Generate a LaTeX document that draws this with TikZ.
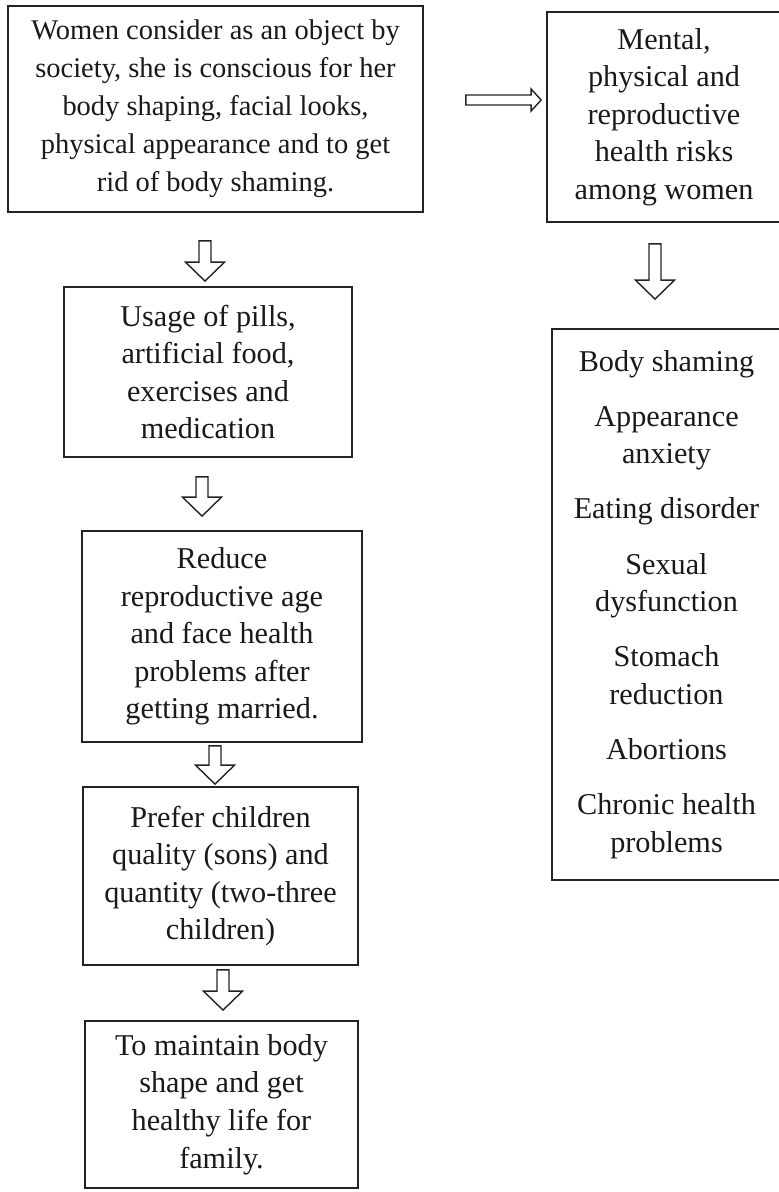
\documentclass[tikz,border=0pt]{standalone}
\usepackage{fontspec}
\setmainfont{Liberation Serif}
\usepackage{tikz}
\usetikzlibrary{calc, positioning, arrows.meta}
\definecolor{boxline}{RGB}{35,35,35}
\definecolor{boxtext}{RGB}{25,25,25}
\tikzset{
    flowbox/.style={draw=boxline, line width=1pt, align=center, inner sep=0pt, text=boxtext, font=\fontsize{17.2}{21.4}\selectfont},
    downblock/.style={draw=boxline, line width=0.8pt, to path={let \p1=(\tikztostart), \p2=(\tikztotarget) in
        (\x1-1.2mm,\y1) -- (\x1-1.2mm,\y2+3.8mm) -- (\x1-3.9mm,\y2+3.8mm) -- (\x1,\y2)
        -- (\x1+3.9mm,\y2+3.8mm) -- (\x1+1.2mm,\y2+3.8mm) -- (\x1+1.2mm,\y1) -- cycle}},
    rightblock/.style={draw=boxline, line width=0.8pt, to path={let \p1=(\tikztostart), \p2=(\tikztotarget) in
        (\x1,\y1+1mm) -- (\x2-2mm,\y1+1mm) -- (\x2-2mm,\y1+2.2mm) -- (\x2,\y1)
        -- (\x2-2mm,\y1-2.2mm) -- (\x2-2mm,\y1-1mm) -- (\x1,\y1-1mm) -- cycle}}
}
\begin{document}
\begin{tikzpicture}[x=0.2mm,y=0.2mm]
            \useasboundingbox (0,0) rectangle (779,-1192);
            \node[flowbox, font=\fontsize{16.2}{21.6}\selectfont, minimum width=83mm, minimum height=41.2mm] (obj) at (215.5,-109) {Women consider as an object by\\ society, she is conscious for her\\ body shaping, facial looks,\\ physical appearance and to get\\ rid of body shaming.};
            \node[flowbox, minimum width=46.8mm, minimum height=42mm] (risk) at (664,-117) {Mental,\\ physical and\\ reproductive\\ health risks\\ among women};
            \node[flowbox, minimum width=45.8mm, minimum height=110.2mm] (harm) at (666.5,-604.5) {Body shaming\\[10pt] Appearance\\ anxiety\\[10pt] Eating disorder\\[10pt] Sexual\\ dysfunction\\[10pt] Stomach\\ reduction\\[10pt] Abortions\\[10pt] Chronic health\\ problems};
            \node[flowbox, minimum width=57.6mm, minimum height=34mm] (pills) at (208,-372) {Usage of pills,\\ artificial food,\\ exercises and\\ medication};
            \node[flowbox, minimum width=56mm, minimum height=42.2mm] (age) at (222,-636.5) {Reduce\\ reproductive age\\ and face health\\ problems after\\ getting married.};
            \node[flowbox, minimum width=55mm, minimum height=35.6mm] (pref) at (220.5,-876) {Prefer children\\ quality (sons) and\\ quantity (two-three\\ children)};
            \node[flowbox, minimum width=54.6mm, minimum height=33.4mm] (shape) at (221.5,-1104.5) {To maintain body\\ shape and get\\ healthy life for\\ family.};
            % hollow arrows
            \draw[rightblock] ($(obj.east)+(42,9)$) to ($(risk.west)+(-5,0)$);
            \draw[downblock] ($(risk.south)+(-9,-21)$) to ($(harm.north)+(0,29)$);
            \draw[downblock] ($(obj.south)+(-10.5,-28)$) to ($(pills.north)+(0,5)$);
            \draw[downblock] ($(pills.south)+(-6,-19)$) to ($(age.north)+(0,14)$);
            \draw[downblock] ($(age.south)+(-7,-3)$) to ($(pref.north)+(0,2)$);
            \draw[downblock] ($(pref.south)+(2.5,-4)$) to ($(shape.north)+(0,10)$);
        \end{tikzpicture}
\end{document}
